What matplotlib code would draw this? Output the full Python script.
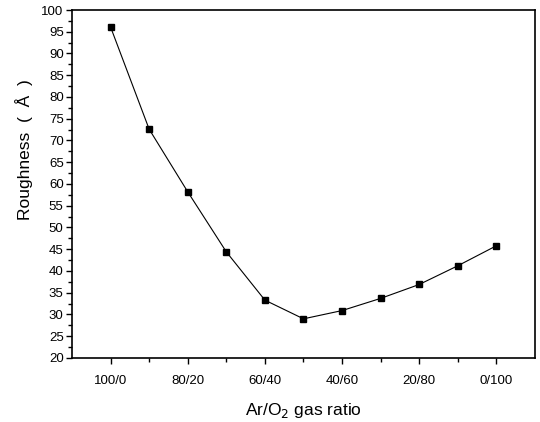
import numpy as np
import matplotlib.pyplot as plt

plt.rcParams['font.family'] = ['Liberation Sans', 'DejaVu Sans']

# Ar/O2 ratio (all 11 steps), only every other one is labelled
ratios = ['100/0', '90/10', '80/20', '70/30', '60/40', '50/50',
          '40/60', '30/70', '20/80', '10/90', '0/100']
roughness = [96.1, 72.6, 58.2, 44.4, 33.3, 29.0, 30.9, 33.7, 36.9, 41.2, 45.8]

x = np.arange(len(ratios))

fig = plt.figure(figsize=(5.4, 4.22), dpi=100)
ax = fig.add_axes([0.1333, 0.1517, 0.8574, 0.8246])

ax.plot(x, roughness, color='black', lw=0.8, marker='s', ms=4,
        markerfacecolor='black', markeredgecolor='black')

ax.set_xlim(-1, 11)
ax.set_ylim(20, 100)
ax.set_xticks(x[::2])
ax.set_xticklabels(ratios[::2])
ax.set_xticks(x[1::2], minor=True)
ax.set_yticks(np.arange(20, 101, 5))
ax.set_yticks(np.arange(22.5, 100, 5), minor=True)

ax.tick_params(axis='both', which='major', direction='out', length=4,
               width=1, labelsize=9.5, pad=2)
ax.tick_params(axis='both', which='minor', direction='out', length=3, width=1)
ax.tick_params(axis='x', which='major', pad=8)
for s in ax.spines.values():
    s.set_linewidth(1.2)

ax.set_ylabel('Roughness  (  Å  )', fontsize=12.5)
ax.yaxis.set_label_coords(-0.085, 0.60)
ax.set_xlabel('Ar/O$_2$ gas ratio', fontsize=12.5, labelpad=10)

fig.savefig('out.png', dpi=100)
